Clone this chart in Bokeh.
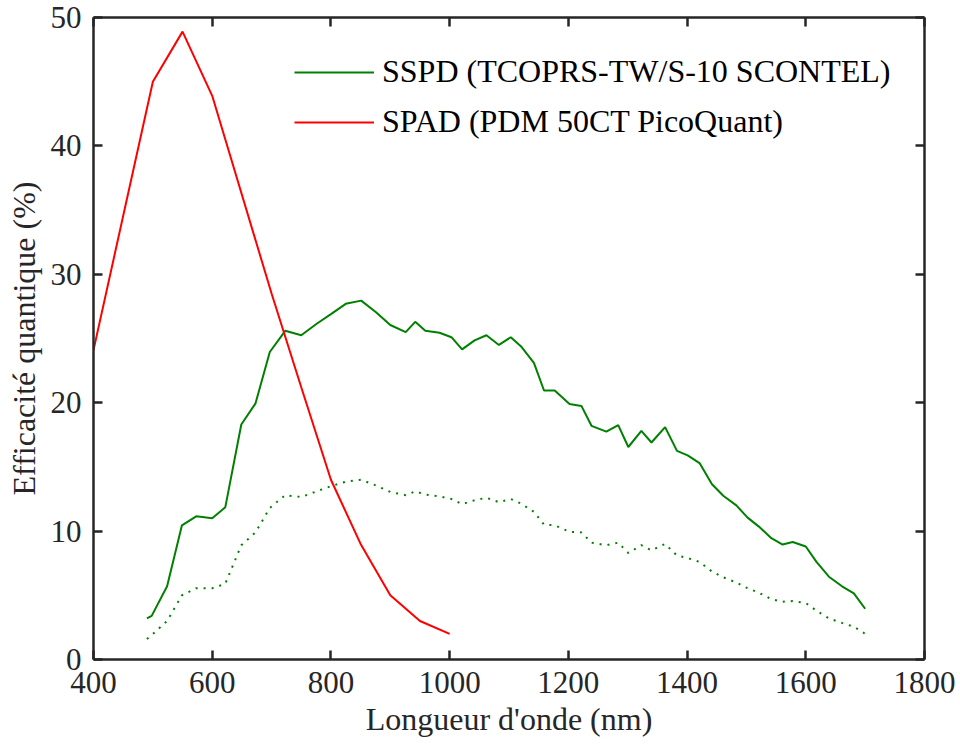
from bokeh.plotting import figure
from bokeh.models import LinearAxis, FixedTicker, Legend, LegendItem, Range1d
from bokeh.embed import file_html
from bokeh.resources import INLINE

# ---- data ----
wavelength_sspd = [490, 498, 524, 549, 573, 600, 622, 649, 673, 697,
                   723, 750, 776, 800, 825, 851, 876, 900, 926, 942,
                   959, 983, 1003, 1021, 1042, 1062, 1083, 1103, 1120, 1142,
                   1159, 1177, 1202, 1222, 1239, 1264, 1284, 1301, 1323, 1340,
                   1363, 1383, 1401, 1421, 1442, 1461, 1483, 1502, 1521, 1542,
                   1561, 1578, 1600, 1618, 1639, 1661, 1681, 1700]
eff_sspd = [3.2, 3.4, 5.7, 10.45, 11.15, 11.0, 11.85, 18.3, 19.95, 23.95,
            25.6, 25.25, 26.15, 26.9, 27.7, 27.95, 27.05, 26.05, 25.5, 26.3,
            25.6, 25.45, 25.1, 24.15, 24.85, 25.25, 24.5, 25.1, 24.4, 23.1,
            20.95, 20.95, 19.9, 19.75, 18.2, 17.75, 18.25, 16.55, 17.8, 16.9,
            18.1, 16.25, 15.9, 15.3, 13.65, 12.75, 12.0, 11.05, 10.35, 9.45,
            8.95, 9.15, 8.8, 7.6, 6.45, 5.7, 5.15, 3.95]
eff_sspd_dotted = [1.6, 1.9, 3.0, 5.0, 5.55, 5.55, 5.9, 8.9, 9.9, 11.8,
                   12.8, 12.65, 13.1, 13.5, 13.85, 14.0, 13.55, 13.05, 12.8, 13.1,
                   12.85, 12.7, 12.5, 12.1, 12.4, 12.6, 12.25, 12.5, 12.15, 11.5,
                   10.5, 10.45, 9.95, 9.9, 9.1, 8.9, 9.1, 8.3, 8.9, 8.5,
                   9.0, 8.1, 7.9, 7.6, 6.85, 6.4, 6.0, 5.55, 5.2, 4.7,
                   4.5, 4.55, 4.4, 3.8, 3.2, 2.85, 2.55, 2.0]
wavelength_spad = [400, 500, 550, 600, 700, 750, 800, 850, 900, 950, 1000]
eff_spad = [24.1, 45.0, 48.9, 43.9, 28.5, 21.2, 14.0, 9.0, 5.0, 3.0, 2.0]

x_ticks = [400, 600, 800, 1000, 1200, 1400, 1600, 1800]
y_ticks = [0, 10, 20, 30, 40, 50]
legend_labels = ["SSPD (TCOPRS-TW/S-10 SCONTEL)", "SPAD (PDM 50CT PicoQuant)"]
x_label = "Longueur d'onde (nm)"
y_label = "Efficacité quantique (%)"

FONT = "Liberation Serif"
AX = "#262626"
GREEN = "#008000"
RED = "#ff0000"

p = figure(width=956, height=747,
           x_range=Range1d(400, 1800), y_range=Range1d(0, 50),
           output_backend="svg", toolbar_location=None,
           min_border_left=93, min_border_right=32,
           min_border_top=17, min_border_bottom=88)
p.outline_line_color = None
p.xgrid.visible = False
p.ygrid.visible = False
p.background_fill_color = "white"
p.border_fill_color = "white"


def style_axis(ax, ticks, show_labels):
    ax.ticker = FixedTicker(ticks=ticks)
    ax.axis_line_color = AX
    ax.axis_line_width = 2.5
    ax.major_tick_line_color = AX
    ax.major_tick_line_width = 2.5
    ax.major_tick_in = 9
    ax.major_tick_out = 0
    ax.minor_tick_line_color = None
    ax.major_label_text_font = FONT
    if show_labels:
        ax.major_label_text_font_size = "31px"
        ax.major_label_text_color = AX
    else:
        ax.major_label_text_font_size = "1px"
        ax.major_label_text_color = None
        ax.major_label_standoff = 0


xaxis = p.xaxis[0]
yaxis = p.yaxis[0]
style_axis(xaxis, x_ticks, True)
style_axis(yaxis, y_ticks, True)
xaxis.major_label_standoff = 12
yaxis.major_label_standoff = 12
xaxis.axis_label = x_label
yaxis.axis_label = y_label
for ax in (xaxis, yaxis):
    ax.axis_label_text_font = FONT
    ax.axis_label_text_font_size = "32px"
    ax.axis_label_text_font_style = "normal"
    ax.axis_label_text_color = AX
xaxis.axis_label_standoff = 5
yaxis.axis_label_standoff = 6

top_axis = LinearAxis()
right_axis = LinearAxis()
style_axis(top_axis, x_ticks, False)
style_axis(right_axis, y_ticks, False)
p.add_layout(top_axis, "above")
p.add_layout(right_axis, "right")

r_sspd = p.line(wavelength_sspd, eff_sspd, line_color=GREEN, line_width=2)
r_dot = p.line(wavelength_sspd, eff_sspd_dotted, line_color=GREEN, line_width=2,
               line_dash="2 6")
r_spad = p.line(wavelength_spad, eff_spad, line_color=RED, line_width=2)

legend = Legend(items=[LegendItem(label=legend_labels[0], renderers=[r_sspd]),
                       LegendItem(label=legend_labels[1], renderers=[r_spad])],
                location=(201, 519), padding=0, margin=0, spacing=13,
                glyph_width=80, label_standoff=8,
                border_line_color=None, background_fill_alpha=0,
                label_text_font=FONT, label_text_font_size="32px",
                label_text_color="black")
p.add_layout(legend)

open("out.html", "w").write(file_html(p, INLINE))
